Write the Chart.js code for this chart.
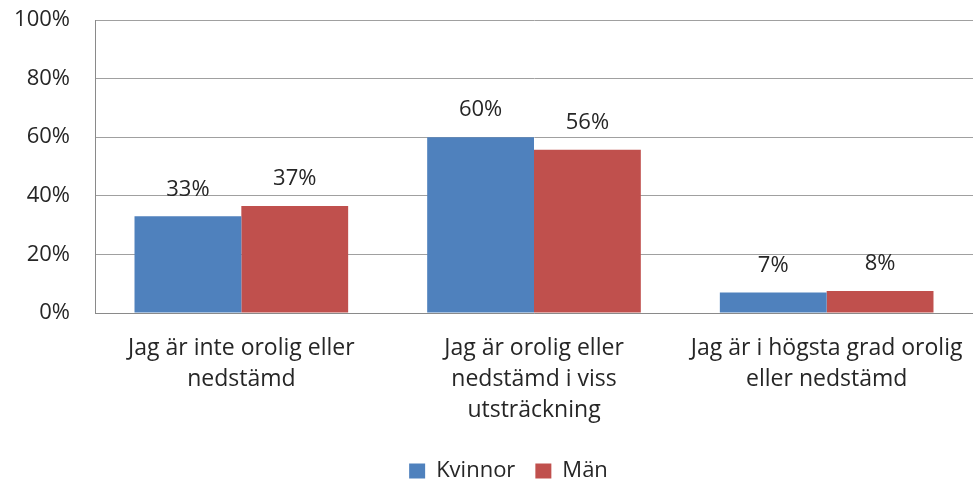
<!DOCTYPE html>
<html>
<head>
<meta charset="utf-8">
<script src="https://cdn.jsdelivr.net/npm/chart.js@4/dist/chart.umd.min.js"></script>
<style>
  html, body { margin: 0; padding: 0; background: #fff; overflow: hidden; }
  #wrap { width: 973px; height: 483px; overflow: hidden; position: relative; }
  canvas { display: block; }
</style>
</head>
<body>
<div id="wrap"><canvas id="c" width="973" height="492"></canvas></div>
<script>
const categories = [
  ['Jag är inte orolig eller', 'nedstämd'],
  ['Jag är orolig eller', 'nedstämd i viss', 'utsträckning'],
  ['Jag är i högsta grad orolig', 'eller nedstämd']
];
const seriesNames = ['Kvinnor', 'Män'];
const kvinnor = [33, 60, 7];
const man = [36.5, 55.7, 7.5];
const yTickValues = [0, 20, 40, 60, 80, 100];

const FONT = "'Open Sans', 'DejaVu Sans', sans-serif";
const TEXT = '#262626';

const dataLabels = {
  id: 'dataLabels',
  afterDatasetsDraw(chart) {
    const ctx = chart.ctx;
    ctx.save();
    ctx.font = '22px ' + FONT;
    ctx.fillStyle = TEXT;
    ctx.textAlign = 'center';
    ctx.textBaseline = 'middle';
    chart.data.datasets.forEach((ds, di) => {
      const meta = chart.getDatasetMeta(di);
      meta.data.forEach((el, i) => {
        ctx.fillText(Math.round(ds.data[i]) + '%', el.x, el.y - 27);
      });
    });
    ctx.restore();
  }
};

const legendShift = {
  id: 'legendShift',
  beforeDraw(chart) {
    const lg = chart.legend;
    if (lg && !lg._shifted) {
      lg.left += 22; lg.right += 22; lg._shifted = true;
    }
  }
};

new Chart(document.getElementById('c'), {
  type: 'bar',
  data: {
    labels: categories,
    datasets: [
      { label: seriesNames[0], data: kvinnor, backgroundColor: '#4F81BD', borderWidth: 0 },
      { label: seriesNames[1], data: man, backgroundColor: '#C0504D', borderWidth: 0 }
    ]
  },
  options: {
    responsive: false,
    animation: false,
    layout: { padding: { top: 20, left: 0, right: 0, bottom: 0 } },
    datasets: { bar: { barPercentage: 1, categoryPercentage: 0.73 } },
    plugins: {
      legend: {
        position: 'bottom',
        labels: {
          font: { family: FONT, size: 22 },
          color: TEXT,
          boxWidth: 16,
          boxHeight: 15,
          padding: 20
        }
      },
      tooltip: { enabled: false }
    },
    scales: {
      x: {
        grid: { display: false, drawTicks: false },
        border: { display: true, color: '#8a8a8a', width: 1 },
        ticks: {
          font: { family: FONT, size: 23, lineHeight: '31px' },
          color: TEXT,
          padding: 20,
          maxRotation: 0,
          autoSkip: false
        },
        afterFit(scale) {
          scale.height = 127;
          scale.paddingLeft = 0; scale.paddingRight = 0;
        }
      },
      y: {
        min: 0,
        max: 100,
        grid: {
          drawTicks: false,
          color: (c) => (c.tick && yTickValues.includes(c.tick.value)) ? '#a0a0a0' : '#d4d4d4',
          lineWidth: 1
        },
        border: { display: true, color: '#8a8a8a', width: 1 },
        ticks: {
          stepSize: 10,
          padding: 25,
          font: { family: FONT, size: 22 },
          color: TEXT,
          callback: (v) => yTickValues.includes(v) ? v + '%' : ''
        },
        afterFit(scale) {
          scale.width = 95;
          scale.paddingTop = 0; scale.paddingBottom = 0;
        }
      }
    }
  },
  plugins: [dataLabels, legendShift]
});
</script>
</body>
</html>
